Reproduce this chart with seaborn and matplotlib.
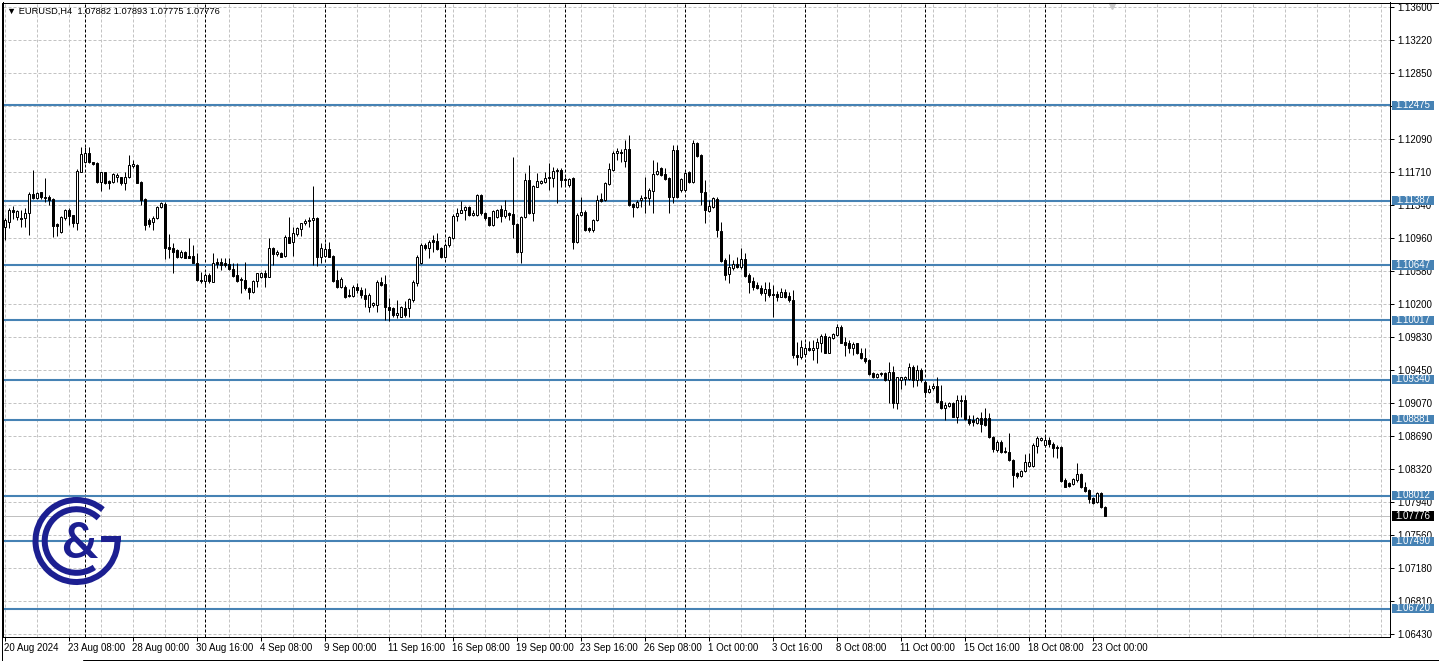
import numpy as np
import pandas as pd
import seaborn as sns
import matplotlib
matplotlib.use("Agg")
import matplotlib.pyplot as plt
from matplotlib.patches import Arc, Rectangle
from matplotlib.lines import Line2D
from matplotlib.transforms import blended_transform_factory

# ---------------- data ----------------
chart_title = "\u25bc EURUSD,H4  1.07882 1.07893 1.07775 1.07776"

open_ = [
    1.11089, 1.11146, 1.11279, 1.11195, 1.11192, 1.11184, 1.11241, 1.11462, 1.11413, 1.11481,
    1.11432, 1.11424, 1.11405, 1.11115, 1.11031, 1.11192, 1.11279, 1.11218, 1.11134, 1.11718,
    1.11824, 1.11935, 1.11824, 1.11813, 1.11603, 1.11710, 1.11615, 1.11603, 1.11653, 1.11653,
    1.11584, 1.11653, 1.11786, 1.11794, 1.11603, 1.11401, 1.11165, 1.11138, 1.11184, 1.11310,
    1.11348, 1.10852, 1.10841, 1.10822, 1.10738, 1.10803, 1.10753, 1.10753, 1.10677, 1.10479,
    1.10471, 1.10536, 1.10460, 1.10681, 1.10681, 1.10670, 1.10662, 1.10601, 1.10536, 1.10490,
    1.10479, 1.10391, 1.10338, 1.10471, 1.10517, 1.10563, 1.10517, 1.10841, 1.10776, 1.10791,
    1.10753, 1.10974, 1.10917, 1.11005, 1.11062, 1.11127, 1.11153, 1.11165, 1.11184, 1.10745,
    1.10753, 1.10829, 1.10753, 1.10479, 1.10395, 1.10402, 1.10307, 1.10299, 1.10395, 1.10364,
    1.10307, 1.10174, 1.10193, 1.10193, 1.10460, 1.10433, 1.10174, 1.10155, 1.10075, 1.10059,
    1.10155, 1.10155, 1.10250, 1.10448, 1.10670, 1.10879, 1.10841, 1.10936, 1.10928, 1.10841,
    1.10745, 1.10879, 1.10955, 1.11211, 1.11249, 1.11279, 1.11317, 1.11222, 1.11222, 1.11451,
    1.11241, 1.11195, 1.11108, 1.11203, 1.11287, 1.11211, 1.11241, 1.11233, 1.11119, 1.10803,
    1.11195, 1.11622, 1.11241, 1.11546, 1.11592, 1.11603, 1.11641, 1.11641, 1.11725, 1.11737,
    1.11622, 1.11565, 1.11641, 1.10917, 1.11222, 1.11260, 1.11070, 1.11051, 1.11165, 1.11401,
    1.11393, 1.11573, 1.11737, 1.11927, 1.11946, 1.11843, 1.11973, 1.11348, 1.11310, 1.11393,
    1.11413, 1.11413, 1.11500, 1.11687, 1.11756, 1.11691, 1.11641, 1.11432, 1.11965, 1.11508,
    1.11508, 1.11718, 1.11603, 1.12049, 1.11908, 1.11489, 1.11272, 1.11317, 1.11401, 1.11043,
    1.10707, 1.10547, 1.10612, 1.10662, 1.10624, 1.10715, 1.10536, 1.10467, 1.10421, 1.10391,
    1.10326, 1.10372, 1.10319, 1.10315, 1.10288, 1.10345, 1.10296, 1.10250, 1.09621, 1.09594,
    1.09629, 1.09697, 1.09678, 1.09697, 1.09762, 1.09838, 1.09648, 1.09819, 1.09850, 1.09945,
    1.09773, 1.09754, 1.09705, 1.09754, 1.09640, 1.09583, 1.09564, 1.09419, 1.09366, 1.09400,
    1.09419, 1.09335, 1.09430, 1.09068, 1.09335, 1.09343, 1.09343, 1.09488, 1.09335, 1.09449,
    1.09316, 1.09202, 1.09240, 1.09267, 1.09095, 1.09011, 1.09038, 1.09068, 1.08916, 1.09099,
    1.09106, 1.08885, 1.08878, 1.08847, 1.08897, 1.08897, 1.08897, 1.08687, 1.08535, 1.08630,
    1.08523, 1.08516, 1.08420, 1.08268, 1.08241, 1.08294, 1.08352, 1.08355, 1.08584, 1.08649,
    1.08592, 1.08649, 1.08603, 1.08573, 1.08573, 1.08192, 1.08161, 1.08146, 1.08192, 1.08260,
    1.08115, 1.08077, 1.07982, 1.07944, 1.08039, 1.07882,
]
high_ = [
    1.11184, 1.11298, 1.11325, 1.11279, 1.11279, 1.11298, 1.11489, 1.11737, 1.11489, 1.11489,
    1.11641, 1.11451, 1.11413, 1.11127, 1.11211, 1.11287, 1.11298, 1.11222, 1.11744, 1.12003,
    1.12003, 1.12003, 1.11832, 1.11824, 1.11718, 1.11718, 1.11622, 1.11706, 1.11706, 1.11660,
    1.11718, 1.11908, 1.11851, 1.11801, 1.11611, 1.11413, 1.11184, 1.11211, 1.11325, 1.11374,
    1.11374, 1.11005, 1.10898, 1.10829, 1.10822, 1.10814, 1.10955, 1.10879, 1.10784, 1.10574,
    1.10555, 1.10555, 1.10784, 1.10726, 1.10726, 1.10726, 1.10726, 1.10670, 1.10670, 1.10517,
    1.10688, 1.10402, 1.10479, 1.10563, 1.10574, 1.10593, 1.10955, 1.10860, 1.10822, 1.10803,
    1.10993, 1.11195, 1.11081, 1.11089, 1.11134, 1.11172, 1.11195, 1.11554, 1.11195, 1.10898,
    1.10906, 1.10917, 1.10765, 1.10593, 1.10517, 1.10421, 1.10372, 1.10421, 1.10441, 1.10402,
    1.10383, 1.10326, 1.10231, 1.10479, 1.10517, 1.10536, 1.10269, 1.10174, 1.10250, 1.10181,
    1.10242, 1.10269, 1.10479, 1.10765, 1.10898, 1.10898, 1.10936, 1.10993, 1.11012, 1.10860,
    1.10898, 1.10982, 1.11233, 1.11298, 1.11386, 1.11325, 1.11325, 1.11279, 1.11462, 1.11462,
    1.11260, 1.11203, 1.11279, 1.11291, 1.11336, 1.11393, 1.11260, 1.11889, 1.11134, 1.11211,
    1.11698, 1.11794, 1.11565, 1.11698, 1.11622, 1.11718, 1.11813, 1.11775, 1.11756, 1.11756,
    1.11660, 1.11641, 1.11660, 1.11241, 1.11432, 1.11279, 1.11089, 1.11172, 1.11451, 1.11470,
    1.11603, 1.11813, 1.11958, 1.11984, 1.11973, 1.12080, 1.12137, 1.11363, 1.11393, 1.11451,
    1.11660, 1.11527, 1.11851, 1.11832, 1.11767, 1.11756, 1.11660, 1.12022, 1.12022, 1.11641,
    1.11718, 1.11729, 1.12080, 1.12061, 1.11920, 1.11622, 1.11393, 1.11432, 1.11432, 1.11146,
    1.10726, 1.10776, 1.10707, 1.10745, 1.10841, 1.10784, 1.10555, 1.10517, 1.10460, 1.10421,
    1.10460, 1.10460, 1.10421, 1.10357, 1.10383, 1.10372, 1.10345, 1.10364, 1.09773, 1.09793,
    1.09762, 1.09785, 1.09793, 1.09812, 1.09857, 1.09869, 1.09838, 1.09876, 1.09976, 1.09964,
    1.09831, 1.09793, 1.09773, 1.09762, 1.09697, 1.09697, 1.09571, 1.09430, 1.09419, 1.09430,
    1.09430, 1.09545, 1.09495, 1.09373, 1.09373, 1.09381, 1.09533, 1.09507, 1.09507, 1.09469,
    1.09335, 1.09278, 1.09305, 1.09366, 1.09278, 1.09087, 1.09087, 1.09087, 1.09164, 1.09164,
    1.09164, 1.08935, 1.08935, 1.08916, 1.08973, 1.09011, 1.08954, 1.08695, 1.08649, 1.08649,
    1.08573, 1.08733, 1.08428, 1.08287, 1.08306, 1.08489, 1.08496, 1.08611, 1.08695, 1.08687,
    1.08706, 1.08687, 1.08630, 1.08592, 1.08580, 1.08211, 1.08173, 1.08211, 1.08382, 1.08275,
    1.08173, 1.08085, 1.08001, 1.08058, 1.08058, 1.07893,
]
low_ = [
    1.10936, 1.11070, 1.11172, 1.11165, 1.11089, 1.11089, 1.10993, 1.11405, 1.11405, 1.11405,
    1.11374, 1.11336, 1.10974, 1.10982, 1.11012, 1.11165, 1.11108, 1.11089, 1.11051, 1.11710,
    1.11813, 1.11813, 1.11794, 1.11584, 1.11496, 1.11576, 1.11515, 1.11592, 1.11603, 1.11565,
    1.11508, 1.11641, 1.11756, 1.11584, 1.11336, 1.11051, 1.11089, 1.11051, 1.11172, 1.11298,
    1.10715, 1.10726, 1.10555, 1.10726, 1.10726, 1.10726, 1.10726, 1.10670, 1.10467, 1.10441,
    1.10402, 1.10441, 1.10452, 1.10612, 1.10593, 1.10632, 1.10593, 1.10517, 1.10460, 1.10326,
    1.10364, 1.10258, 1.10326, 1.10402, 1.10498, 1.10395, 1.10509, 1.10650, 1.10753, 1.10738,
    1.10745, 1.10898, 1.10753, 1.10982, 1.10982, 1.11108, 1.11089, 1.10650, 1.10639, 1.10677,
    1.10745, 1.10738, 1.10452, 1.10383, 1.10383, 1.10269, 1.10288, 1.10288, 1.10326, 1.10269,
    1.10174, 1.10116, 1.10174, 1.10116, 1.10410, 1.10021, 1.10014, 1.10059, 1.10040, 1.10052,
    1.10059, 1.10059, 1.10231, 1.10410, 1.10662, 1.10822, 1.10726, 1.10803, 1.10822, 1.10726,
    1.10726, 1.10860, 1.10944, 1.11157, 1.11241, 1.11165, 1.11211, 1.11211, 1.11211, 1.11222,
    1.11165, 1.11096, 1.11100, 1.11184, 1.11146, 1.11184, 1.11165, 1.10955, 1.10791, 1.10677,
    1.11184, 1.11233, 1.11157, 1.11538, 1.11576, 1.11584, 1.11508, 1.11546, 1.11355, 1.11546,
    1.11565, 1.11546, 1.10829, 1.10906, 1.11211, 1.11043, 1.11031, 1.11031, 1.11157, 1.11374,
    1.11386, 1.11565, 1.11729, 1.11851, 1.11832, 1.11775, 1.11325, 1.11203, 1.11298, 1.11310,
    1.11241, 1.11336, 1.11241, 1.11679, 1.11668, 1.11622, 1.11241, 1.11355, 1.11413, 1.11489,
    1.11500, 1.11584, 1.11592, 1.11889, 1.11336, 1.11127, 1.11260, 1.11298, 1.10974, 1.10688,
    1.10479, 1.10448, 1.10593, 1.10612, 1.10601, 1.10517, 1.10326, 1.10364, 1.10372, 1.10307,
    1.10242, 1.10288, 1.10059, 1.10242, 1.10280, 1.10269, 1.10231, 1.09583, 1.09507, 1.09571,
    1.09621, 1.09671, 1.09564, 1.09533, 1.09659, 1.09640, 1.09640, 1.09800, 1.09838, 1.09754,
    1.09610, 1.09640, 1.09621, 1.09632, 1.09571, 1.09533, 1.09392, 1.09354, 1.09354, 1.09381,
    1.09328, 1.09068, 1.09011, 1.09000, 1.09228, 1.09278, 1.09335, 1.09251, 1.09267, 1.09316,
    1.09145, 1.09190, 1.09221, 1.09076, 1.09000, 1.08878, 1.09030, 1.08908, 1.08847, 1.08916,
    1.08878, 1.08820, 1.08809, 1.08832, 1.08744, 1.08813, 1.08668, 1.08516, 1.08516, 1.08496,
    1.08496, 1.08413, 1.08108, 1.08211, 1.08230, 1.08287, 1.08344, 1.08344, 1.08496, 1.08641,
    1.08573, 1.08573, 1.08451, 1.08439, 1.08173, 1.08108, 1.08108, 1.08134, 1.08173, 1.08096,
    1.08058, 1.07925, 1.07917, 1.07932, 1.07868, 1.07775,
]
close_ = [
    1.11165, 1.11279, 1.11260, 1.11272, 1.11180, 1.11241, 1.11462, 1.11413, 1.11477, 1.11432,
    1.11413, 1.11393, 1.11100, 1.11100, 1.11195, 1.11279, 1.11211, 1.11127, 1.11729, 1.11920,
    1.11927, 1.11824, 1.11801, 1.11603, 1.11710, 1.11584, 1.11592, 1.11687, 1.11679, 1.11584,
    1.11660, 1.11794, 1.11805, 1.11592, 1.11393, 1.11108, 1.11115, 1.11184, 1.11310, 1.11355,
    1.10841, 1.10833, 1.10803, 1.10738, 1.10803, 1.10734, 1.10730, 1.10677, 1.10479, 1.10467,
    1.10536, 1.10471, 1.10670, 1.10662, 1.10650, 1.10650, 1.10601, 1.10524, 1.10471, 1.10479,
    1.10383, 1.10345, 1.10471, 1.10555, 1.10563, 1.10517, 1.10841, 1.10776, 1.10803, 1.10745,
    1.10974, 1.10906, 1.11012, 1.11070, 1.11127, 1.11157, 1.11165, 1.11184, 1.10745, 1.10841,
    1.10829, 1.10745, 1.10471, 1.10395, 1.10490, 1.10280, 1.10299, 1.10402, 1.10364, 1.10307,
    1.10258, 1.10307, 1.10212, 1.10460, 1.10421, 1.10174, 1.10136, 1.10078, 1.10097, 1.10166,
    1.10075, 1.10258, 1.10460, 1.10745, 1.10879, 1.10841, 1.10917, 1.10917, 1.10829, 1.10745,
    1.10879, 1.10967, 1.11211, 1.11249, 1.11279, 1.11317, 1.11222, 1.11241, 1.11451, 1.11241,
    1.11184, 1.11108, 1.11272, 1.11279, 1.11211, 1.11279, 1.11222, 1.11115, 1.10803, 1.11203,
    1.11622, 1.11241, 1.11554, 1.11615, 1.11611, 1.11641, 1.11653, 1.11729, 1.11737, 1.11622,
    1.11630, 1.11630, 1.10917, 1.11222, 1.11260, 1.11051, 1.11051, 1.11165, 1.11393, 1.11386,
    1.11584, 1.11744, 1.11935, 1.11958, 1.11935, 1.11973, 1.11336, 1.11310, 1.11374, 1.11413,
    1.11432, 1.11508, 1.11691, 1.11729, 1.11679, 1.11630, 1.11432, 1.11965, 1.11432, 1.11630,
    1.11698, 1.11603, 1.12049, 1.11897, 1.11489, 1.11279, 1.11325, 1.11413, 1.11051, 1.10700,
    1.10536, 1.10632, 1.10662, 1.10624, 1.10715, 1.10524, 1.10460, 1.10402, 1.10383, 1.10326,
    1.10372, 1.10307, 1.10307, 1.10280, 1.10345, 1.10288, 1.10250, 1.09621, 1.09594, 1.09716,
    1.09697, 1.09678, 1.09705, 1.09773, 1.09838, 1.09648, 1.09823, 1.09857, 1.09945, 1.09762,
    1.09735, 1.09705, 1.09743, 1.09640, 1.09583, 1.09552, 1.09404, 1.09366, 1.09404, 1.09411,
    1.09335, 1.09430, 1.09068, 1.09366, 1.09366, 1.09366, 1.09488, 1.09335, 1.09449, 1.09335,
    1.09202, 1.09228, 1.09267, 1.09087, 1.09011, 1.09049, 1.09068, 1.08916, 1.09106, 1.09106,
    1.08885, 1.08847, 1.08855, 1.08897, 1.08832, 1.08821, 1.08679, 1.08542, 1.08630, 1.08516,
    1.08508, 1.08420, 1.08249, 1.08237, 1.08298, 1.08401, 1.08401, 1.08592, 1.08668, 1.08668,
    1.08649, 1.08603, 1.08554, 1.08554, 1.08184, 1.08115, 1.08123, 1.08199, 1.08260, 1.08108,
    1.08070, 1.07970, 1.07932, 1.08039, 1.07879, 1.07776,
]

level_prices = [1.12475, 1.11387, 1.10647, 1.10017, 1.09340, 1.08881, 1.08012, 1.07490, 1.06720]
level_labels = ["1.12475", "1.11387", "1.10647", "1.10017", "1.09340",
                "1.08881", "1.08012", "1.07490", "1.06720"]
bid_price = 1.07776
bid_label = "1.07776"

price_ticks = [1.13600, 1.13220, 1.12850, 1.12470, 1.12090, 1.11710, 1.11340, 1.10960,
               1.10580, 1.10200, 1.09830, 1.09450, 1.09070, 1.08690, 1.08320, 1.07940,
               1.07560, 1.07180, 1.06810, 1.06430]
price_tick_labels = ["1.13600", "1.13220", "1.12850", "1.12470", "1.12090", "1.11710",
                     "1.11340", "1.10960", "1.10580", "1.10200", "1.09830", "1.09450",
                     "1.09070", "1.08690", "1.08320", "1.07940", "1.07560", "1.07180",
                     "1.06810", "1.06430"]

time_tick_bars = [0, 16, 32, 48, 64, 80, 96, 112, 128, 144, 160, 176, 192, 208, 224, 240, 256, 272]
time_tick_labels = ["20 Aug 2024", "23 Aug 08:00", "28 Aug 00:00", "30 Aug 16:00",
                    "4 Sep 08:00", "9 Sep 00:00", "11 Sep 16:00", "16 Sep 08:00",
                    "19 Sep 00:00", "23 Sep 16:00", "26 Sep 08:00", "1 Oct 00:00",
                    "3 Oct 16:00", "8 Oct 08:00", "11 Oct 00:00", "15 Oct 16:00",
                    "18 Oct 08:00", "23 Oct 00:00"]
week_start_bars = [20, 50, 80, 110, 140, 170, 200, 230, 260]

# ---------------- style ----------------
sns.set_theme(style="white")
plt.rcParams["font.family"] = ["Liberation Sans", "DejaVu Sans"]
plt.rcParams["axes.unicode_minus"] = False

W, H = 1439, 661
fig = plt.figure(figsize=(W / 100, H / 100), dpi=100, facecolor="white")

ax_l, ax_r, ax_t, ax_b = 2.5, 1389.5, 2.5, 637.0
ax = fig.add_axes([ax_l / W, (H - ax_b) / H, (ax_r - ax_l) / W, (ax_b - ax_t) / H])
ax.set_facecolor("white")

px_per_bar = 4.0
xmin = -0.5
xmax = xmin + (ax_r - ax_l) / px_per_bar
price_per_px = 0.0717 / 627.0
ymax = 1.13600 + (7.0 - ax_t) * price_per_px
ymin = 1.13600 - (ax_b - 7.0) * price_per_px
ax.set_xlim(xmin, xmax)
ax.set_ylim(ymin, ymax)

df = pd.DataFrame({"open": open_, "high": high_, "low": low_, "close": close_})
df["bar"] = np.arange(len(df))

LW = 0.72
GRID = "#c3c3c3"

# grid
grid_bars = np.arange(0, int(xmax) + 1, 8)
ax.vlines(grid_bars, ymin, ymax, colors=GRID, linewidth=LW, linestyles=(0, (3, 2)), zorder=1)
ax.hlines(price_ticks, xmin, xmax, colors=GRID, linewidth=LW, linestyles=(0, (3, 2)), zorder=1)
ax.vlines(week_start_bars, ymin, ymax, colors="black", linewidth=LW, linestyles=(0, (3, 2)), zorder=1.5)

# levels
for p in level_prices:
    ax.axhline(p, color="#4682B4", linewidth=1.5, zorder=2)
ax.axhline(bid_price, color="#c0c0c0", linewidth=LW, zorder=1.8)

# candles
ax.vlines(df["bar"], df["low"], df["high"], colors="black", linewidth=LW, zorder=3)
body_lo = df[["open", "close"]].min(axis=1)
body_h = (df["close"] - df["open"]).abs().clip(lower=0.00002)
up = df["close"] >= df["open"]
ax.bar(df.loc[up, "bar"], body_h[up], bottom=body_lo[up], width=0.5,
       color="white", edgecolor="black", linewidth=LW, zorder=4)
ax.bar(df.loc[~up, "bar"], body_h[~up], bottom=body_lo[~up], width=0.5,
       color="black", edgecolor="black", linewidth=LW, zorder=4)

# axes / ticks
for s in ax.spines.values():
    s.set_color("black")
    s.set_linewidth(LW)
ax.yaxis.tick_right()
ax.set_yticks(price_ticks)
ax.set_yticklabels(price_tick_labels)
ax.set_xticks(time_tick_bars)
ax.set_xticklabels(time_tick_labels, ha="left")
ax.tick_params(axis="y", direction="out", length=2.9, width=LW, pad=2.6,
               labelsize=7, colors="black", right=True, left=False)
ax.tick_params(axis="x", direction="out", length=2.9, width=LW, pad=1.2,
               labelsize=7, colors="black", bottom=True)
ax.grid(False)

# price label boxes on the right
trans = blended_transform_factory(ax.transAxes, ax.transData)
bx0 = (1392 - ax_l) / (ax_r - ax_l)
bx1 = (1434 - ax_l) / (ax_r - ax_l)
half_h = 4.8 * price_per_px
for p, lab in list(zip(level_prices, level_labels)) + [(bid_price, bid_label)]:
    fc = "black" if lab == bid_label else "#4682B4"
    ax.add_patch(Rectangle((bx0, p - half_h), bx1 - bx0, 2 * half_h, transform=trans,
                           facecolor=fc, edgecolor="none", clip_on=False, zorder=6))
    ax.text((bx0 + bx1) / 2, p + 0.4 * price_per_px, lab, transform=trans, ha="center",
            va="center", fontsize=7, color="white", clip_on=False, zorder=7)

# title
fig.text(7 / W, 1 - 11.5 / H, chart_title, fontsize=6.7, color="black", va="center", ha="left")

# overlay for logo and window chrome (pixel coordinates)
lax = fig.add_axes([0, 0, 1, 1], zorder=5)
lax.set_xlim(0, W)
lax.set_ylim(0, H)
lax.axis("off")
lax.patch.set_alpha(0)

NAVY = "#1c1f91"
cx, cy = 76.5, H - 541.0
ring_lw = 6 * 0.72
lax.add_patch(Arc((cx, cy), 82, 82, theta1=50, theta2=364, color=NAVY, lw=ring_lw))
lax.add_patch(Arc((cx, cy), 63.6, 63.6, theta1=46, theta2=304, color=NAVY, lw=ring_lw))
lax.add_patch(Rectangle((100.5, H - 541.5), 20.0, 6.0, color=NAVY, lw=0))
lax.text(79, H - 543, "&", fontsize=36, color=NAVY, ha="center", va="center",
         family=["Lato", "DejaVu Sans"], fontweight="bold")

# chart-shift marker
lax.plot([1112], [H - 6], marker="v", ms=4.5, color="#c8c8c8", mec="#c8c8c8")
# window border lines
lax.add_line(Line2D([1.5, 1.5], [0, H - 2.5], color="black", lw=LW))
lax.add_line(Line2D([1.5, W], [H - 2.5, H - 2.5], color="black", lw=LW))
lax.add_line(Line2D([83, W], [1.5, 1.5], color="black", lw=LW))

fig.savefig("out.png", dpi=100, facecolor="white")
